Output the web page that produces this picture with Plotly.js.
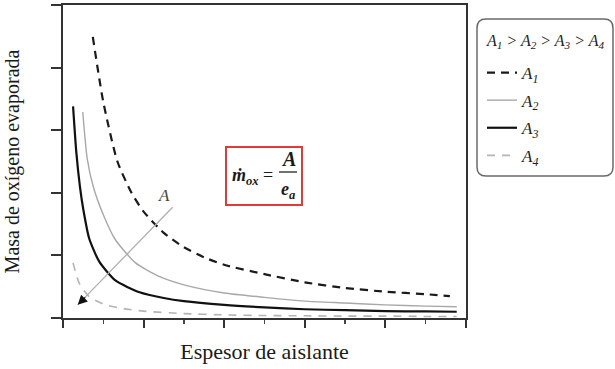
<!DOCTYPE html>
<html>
<head>
<meta charset="utf-8">
<script src="https://cdn.plot.ly/plotly-3.0.1.min.js"></script>
<style>html,body{margin:0;padding:0;background:#fff;}#chart{width:615px;height:369px;}</style>
</head>
<body>
<div id="chart"></div>
<script>
// Espesor de aislante (arbitrary units) and masa evaporada (arbitrary units)
const xA1 = [0.74, 1.0, 1.35, 1.7, 2.0, 2.5, 3.0, 3.5, 4.0, 5.0, 6.0, 7.0, 8.0, 9.0, 9.6];
const yA1 = [4.49, 3.45, 2.5, 2.0, 1.7, 1.36, 1.13, 0.97, 0.85, 0.7, 0.57, 0.48, 0.42, 0.38, 0.35];

const xA2 = [0.49, 0.6, 0.75, 1.0, 1.3, 1.8, 2.4, 3.0, 4.0, 5.0, 6.0, 7.0, 8.0, 9.0, 9.77];
const yA2 = [3.29, 2.55, 2.1, 1.65, 1.25, 0.88, 0.66, 0.53, 0.4, 0.33, 0.27, 0.24, 0.21, 0.19, 0.18];

const xA3 = [0.25, 0.33, 0.42, 0.5, 0.65, 0.9, 1.3, 1.9, 2.5, 3.0, 4.0, 5.0, 6.0, 7.0, 8.0, 9.0, 9.77];
const yA3 = [3.38, 2.65, 2.1, 1.75, 1.27, 0.9, 0.6, 0.41, 0.32, 0.27, 0.21, 0.17, 0.14, 0.125, 0.11, 0.105, 0.1];

const xA4 = [0.25, 0.4, 0.65, 1.05, 1.5, 2.0, 3.0, 4.0, 5.0, 6.0, 7.0, 8.0, 9.0, 9.77];
const yA4 = [0.88, 0.56, 0.34, 0.21, 0.15, 0.11, 0.07, 0.05, 0.04, 0.035, 0.03, 0.03, 0.025, 0.025];

const seriesNames = ["<i>A<sub>1</sub></i>", "<i>A<sub>2</sub></i>", "<i>A<sub>3</sub></i>", "<i>A<sub>4</sub></i>"];
const legendTitle = "<i>A<sub>1</sub> &gt; A<sub>2</sub> &gt; A<sub>3</sub> &gt; A<sub>4</sub></i>";

// arrow "A" (data coordinates): tail and tip
const arrowTail = [2.72, 1.77];
const arrowTip = [0.365, 0.21];

const serif = "'Liberation Serif', 'Times New Roman', serif";

// plot-area pixel helpers for paper-positioned decorations
const L = 63, R = 466, T = 5, B = 318;
const px = v => (v - L) / (R - L);
const py = v => (B - v) / (B - T);

const traces = [
  {x: xA1, y: yA1, name: seriesNames[0], legendgroup: "g1", mode: "lines",
   line: {color: "#1a1a1a", width: 2.2, dash: "8px,6px", shape: "spline", smoothing: 0.6}},
  {x: xA2, y: yA2, name: seriesNames[1], legendgroup: "g2", mode: "lines",
   line: {color: "#a8a8a8", width: 1.4, shape: "spline", smoothing: 0.6}},
  {x: xA3, y: yA3, name: seriesNames[2], legendgroup: "g3", mode: "lines",
   line: {color: "#111111", width: 2.2, shape: "spline", smoothing: 0.6}},
  {x: xA4, y: yA4, name: seriesNames[3], legendgroup: "g4", mode: "lines",
   line: {color: "#b4b4b4", width: 1.6, dash: "8px,7px", shape: "spline", smoothing: 0.6}}
];

// rounded legend frame
const bx0 = px(477), bx1 = px(613), by1 = py(19), by0 = py(176);
const rdx = 9 / (R - L), rdy = 9 / (B - T);
const framePath = `M${bx0+rdx},${by1} L${bx1-rdx},${by1} Q${bx1},${by1} ${bx1},${by1-rdy} ` +
  `L${bx1},${by0+rdy} Q${bx1},${by0} ${bx1-rdx},${by0} L${bx0+rdx},${by0} Q${bx0},${by0} ${bx0},${by0+rdy} ` +
  `L${bx0},${by1-rdy} Q${bx0},${by1} ${bx0+rdx},${by1} Z`;

const layout = {
  width: 615, height: 369,
  margin: {l: L, r: 615 - R, t: T, b: 369 - B},
  paper_bgcolor: "#fff", plot_bgcolor: "#fff",
  font: {family: serif, color: "#1a1a1a"},
  showlegend: true,
  legend: {
    x: px(482), xanchor: "left", y: py(55), yanchor: "top",
    bgcolor: "rgba(0,0,0,0)", borderwidth: 0,
    font: {family: serif, size: 17, color: "#222"},
    traceorder: "grouped", tracegroupgap: 2.5
  },
  xaxis: {
    range: [0, 10], showgrid: false, zeroline: false,
    showline: true, linecolor: "#333", linewidth: 2, mirror: true,
    ticks: "outside", dtick: 2, tick0: 0, ticklen: 8, tickwidth: 2, tickcolor: "#333",
    minor: {dtick: 1, tick0: 0, ticks: "outside", ticklen: 4, tickwidth: 1.5, tickcolor: "#444"},
    showticklabels: false,
    title: {text: "Espesor de aislante", font: {family: serif, size: 22, color: "#1a1a1a"}, standoff: 17}
  },
  yaxis: {
    range: [0, 5], showgrid: false, zeroline: false,
    showline: true, linecolor: "#333", linewidth: 2, mirror: true,
    ticks: "outside", dtick: 1, tick0: 0, ticklen: 10, tickwidth: 2, tickcolor: "#333",
    showticklabels: false,
    title: {text: "Masa de oxígeno evaporada", font: {family: serif, size: 20, color: "#1a1a1a"}, standoff: 26}
  },
  shapes: [
    {type: "path", xref: "paper", yref: "paper", path: framePath, line: {color: "#6a6a6a", width: 1.5}},
    {type: "rect", xref: "paper", yref: "paper", x0: px(226), x1: px(302), y0: py(205), y1: py(147),
     line: {color: "#e03a3a", width: 2}},
    {type: "line", xref: "paper", yref: "paper", x0: px(279), x1: px(297), y0: py(172), y1: py(172),
     line: {color: "#222", width: 1.3}},
    {type: "line", xref: "x", yref: "y", x0: arrowTail[0], y0: arrowTail[1], x1: arrowTip[0], y1: arrowTip[1],
     line: {color: "#b0b0b0", width: 1.3}}
  ],
  annotations: [
    {xref: "paper", yref: "paper", x: px(484), y: py(42), xanchor: "left", yanchor: "middle", showarrow: false,
     text: legendTitle, font: {family: serif, size: 16, color: "#222"}},
    {xref: "paper", yref: "paper", x: px(275), y: py(176), xanchor: "right", yanchor: "middle", showarrow: false,
     text: "<b><i>ṁ<sub>ox</sub></i></b> =", font: {family: serif, size: 18, color: "#1a1a1a"}},
    {xref: "paper", yref: "paper", x: px(288), y: py(159), xanchor: "center", yanchor: "middle", showarrow: false,
     text: "<b><i>A</i></b>", font: {family: serif, size: 20, color: "#1a1a1a"}},
    {xref: "paper", yref: "paper", x: px(288), y: py(190), xanchor: "center", yanchor: "middle", showarrow: false,
     text: "<b><i>e<sub>a</sub></i></b>", font: {family: serif, size: 18, color: "#1a1a1a"}},
    {xref: "x", yref: "y", x: 2.5, y: 1.95, showarrow: false, xanchor: "center", yanchor: "middle",
     text: "<i>A</i>", font: {family: serif, size: 17, color: "#444"}},
    {xref: "x", yref: "y", x: arrowTip[0], y: arrowTip[1], ax: 9, ay: -9, showarrow: true,
     arrowhead: 2, arrowsize: 1.6, arrowwidth: 1.2, arrowcolor: "#111", text: ""}
  ]
};

Plotly.newPlot("chart", traces, layout, {displayModeBar: false, staticPlot: true});
</script>
</body>
</html>
